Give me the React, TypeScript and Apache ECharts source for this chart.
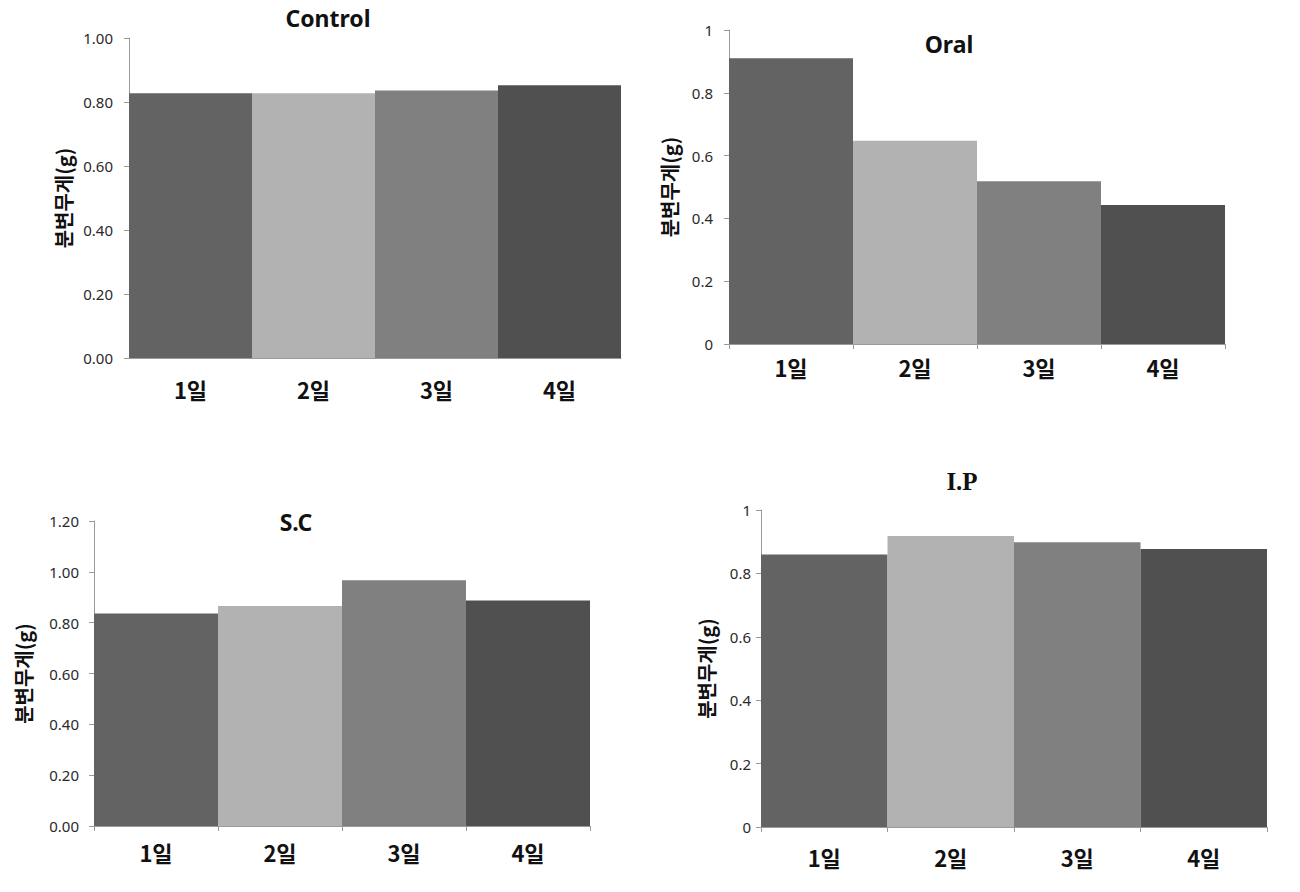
import React, { useEffect, useRef } from "react";
import * as echarts from "echarts";

const days = ["1일", "2일", "3일", "4일"];
const controlValues = [0.827, 0.827, 0.836, 0.852];
const oralValues = [0.91, 0.647, 0.518, 0.443];
const scValues = [0.836, 0.866, 0.967, 0.887];
const ipValues = [0.86, 0.918, 0.898, 0.877];
const barColors = ["#636363", "#b2b2b2", "#808080", "#505050"];
const yName = "분변무게(g)";

const panels = [
  { title: "Control", values: controlValues, max: 1, fixed: true, grid: { left: 129, top: 38, width: 492, height: 320 }, nameGap: 56, labelMargin: 16, xMargin: 20, xTicks: false, tx: 328, ty: 18, serif: false },
  { title: "Oral", values: oralValues, max: 1, fixed: false, grid: { left: 729, top: 30, width: 496, height: 314 }, nameGap: 50, labelMargin: 16, xMargin: 12, xTicks: true, tx: 949, ty: 44, serif: false },
  { title: "S.C", values: scValues, max: 1.2, fixed: true, grid: { left: 94, top: 521, width: 496, height: 305 }, nameGap: 61, labelMargin: 15, xMargin: 15, xTicks: true, tx: 296, ty: 522, serif: false },
  { title: "I.P", values: ipValues, max: 1, fixed: false, grid: { left: 761, top: 510, width: 506, height: 317 }, nameGap: 45, labelMargin: 10, xMargin: 19, xTicks: true, tx: 962, ty: 481, serif: true },
];

export default function App() {
  const ref = useRef<HTMLDivElement>(null);
  useEffect(() => {
    if (!ref.current) return;
    const chart = echarts.init(ref.current, undefined, { renderer: "svg" });
    const axisColor = "#9a9a9a";
    const option: any = {
      animation: false,
      backgroundColor: "#ffffff",
      grid: panels.map((p) => ({ ...p.grid, containLabel: false })),
      xAxis: panels.map((p, i) => ({
        type: "category",
        gridIndex: i,
        data: days,
        boundaryGap: true,
        axisLine: { show: true, lineStyle: { color: axisColor, width: 1 } },
        axisTick: { show: p.xTicks, length: 5, lineStyle: { color: axisColor } },
        axisLabel: {
          margin: p.xMargin,
          color: "#111",
          fontSize: 22,
          fontWeight: "bold",
          fontFamily: "Noto Sans CJK KR",
        },
        splitLine: { show: false },
      })),
      yAxis: panels.map((p, i) => ({
        type: "value",
        gridIndex: i,
        min: 0,
        max: p.max,
        interval: 0.2,
        name: yName,
        nameLocation: "middle",
        nameGap: p.nameGap,
        nameRotate: 90,
        nameTextStyle: {
          color: "#111",
          fontSize: 20,
          fontWeight: "bold",
          fontFamily: "Noto Sans CJK KR",
        },
        axisLine: { show: true, lineStyle: { color: axisColor, width: 1 } },
        axisTick: { show: true, length: 5, lineStyle: { color: axisColor } },
        axisLabel: {
          margin: p.labelMargin,
          color: "#2a2a2a",
          fontSize: 15,
          fontFamily: "Noto Sans",
          formatter: (v: number) => (p.fixed ? v.toFixed(2) : String(Math.round(v * 10) / 10)),
        },
        splitLine: { show: false },
      })),
      series: panels.map((p, i) => ({
        type: "bar",
        xAxisIndex: i,
        yAxisIndex: i,
        barWidth: "100%",
        barCategoryGap: "0%",
        data: p.values.map((v, j) => ({ value: v, itemStyle: { color: barColors[j] } })),
      })),
      graphic: panels.map((p) => ({
        type: "text",
        x: p.tx,
        y: p.ty,
        style: {
          text: p.title,
          fill: "#111",
          fontSize: p.serif ? 25 : 23,
          fontWeight: "bold",
          fontFamily: p.serif ? "Liberation Serif" : "Noto Sans",
          textAlign: "center",
          textVerticalAlign: "middle",
        },
      })),
    };
    chart.setOption(option);
    return () => chart.dispose();
  }, []);
  return (
    <div
      ref={ref}
      style={{ position: "fixed", left: 0, top: 0, width: 1300, height: 892 }}
    />
  );
}
